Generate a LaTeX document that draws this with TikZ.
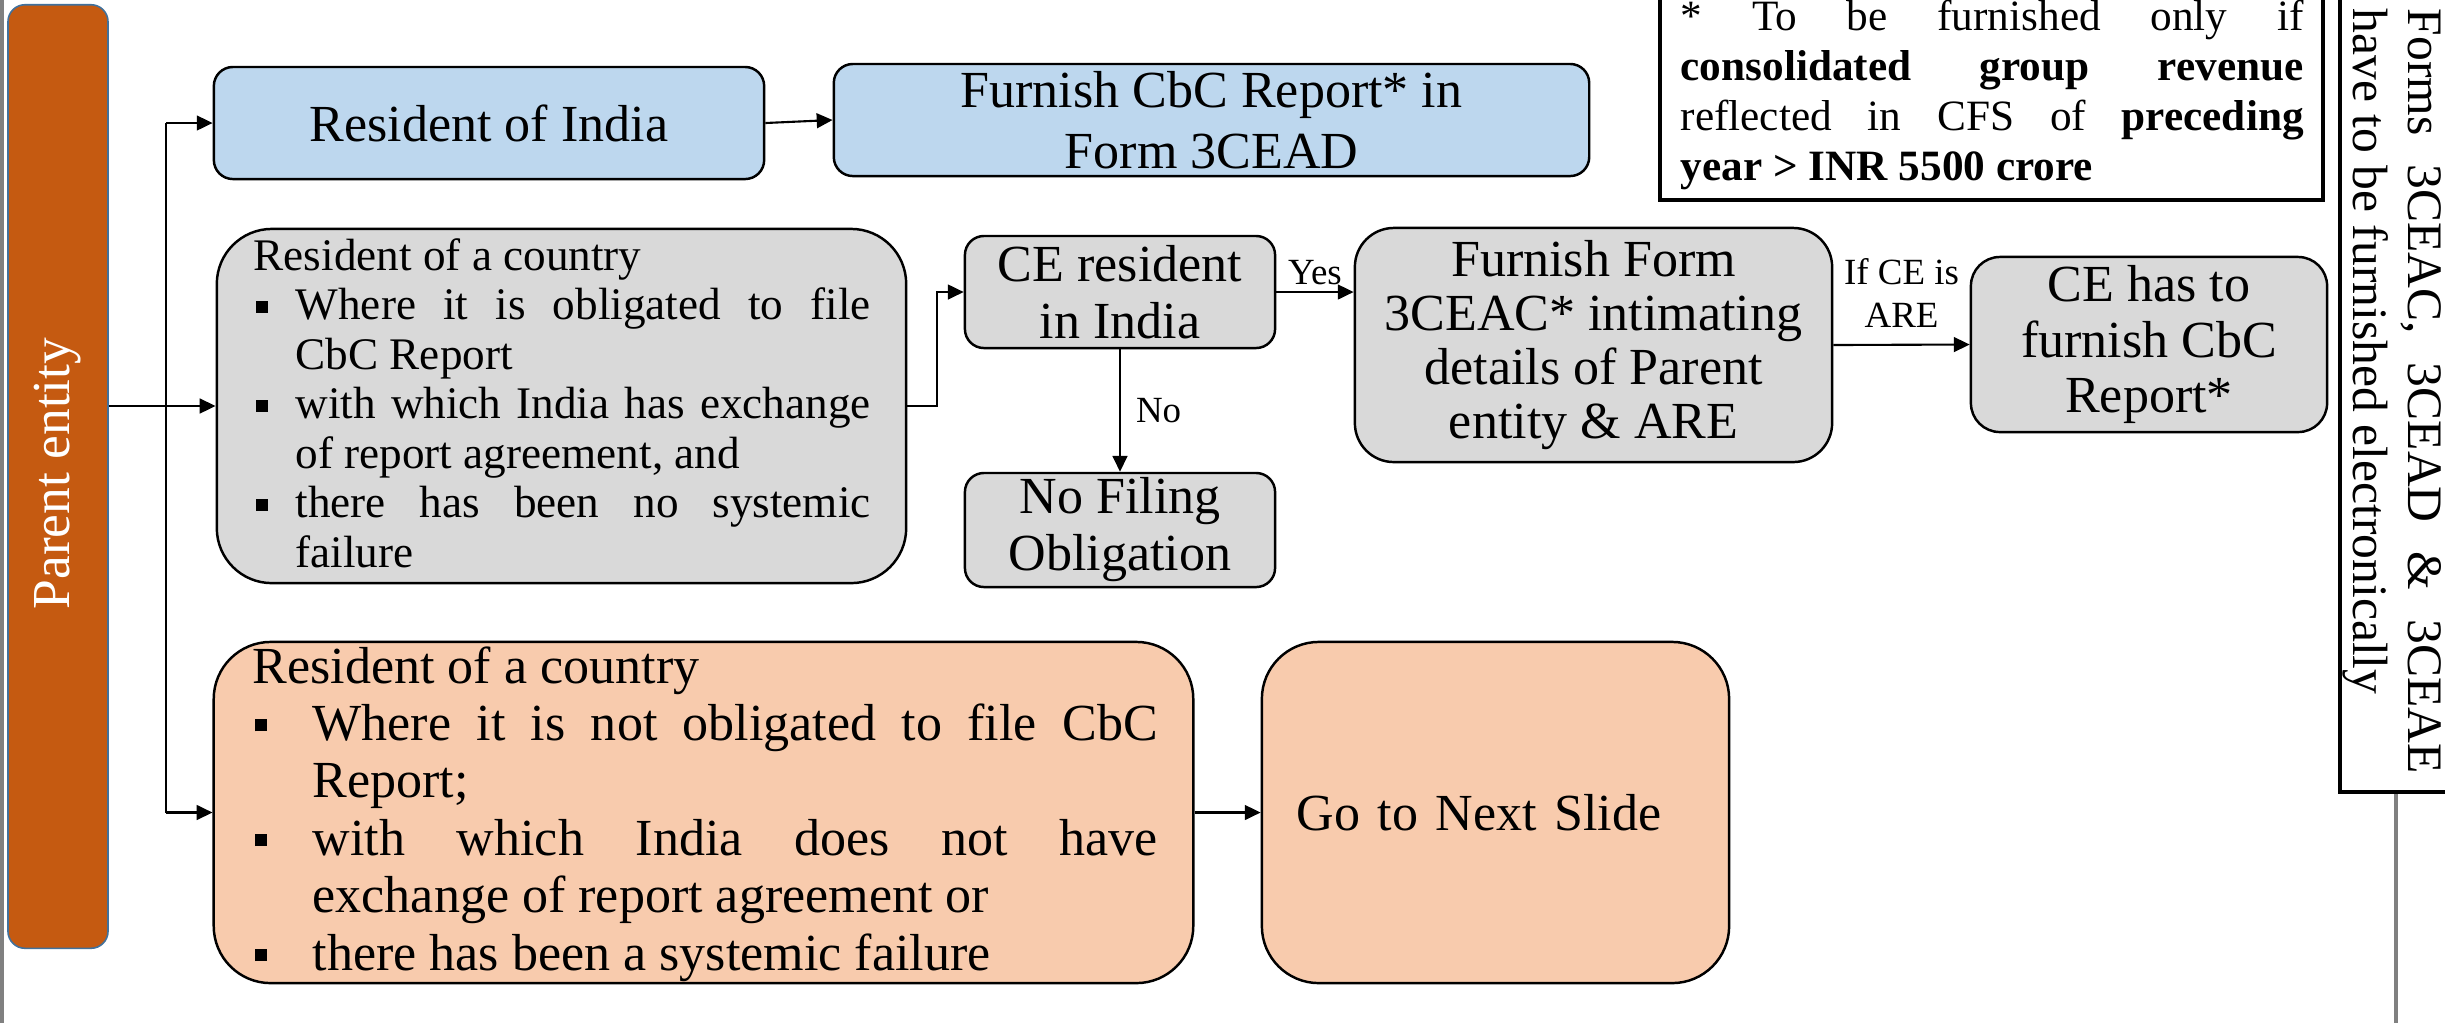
\documentclass[tikz,border=0pt]{standalone}
\usepackage{fontspec}
\setmainfont{Liberation Serif}
\usetikzlibrary{arrows.meta}

% one drawing unit
\newlength{\pxu}\setlength{\pxu}{0.01cm}

\definecolor{rust}{HTML}{C55A11}
\definecolor{rustedge}{HTML}{41719C}
\definecolor{skyfill}{HTML}{BDD7EE}
\definecolor{greyfill}{HTML}{D9D9D9}
\definecolor{peachfill}{HTML}{F8CBAD}
\definecolor{framegrey}{HTML}{808080}

\newcommand{\fsz}[2]{\fontsize{#1}{#2}\selectfont}
% square bullet in a slot of given width, raised by #2
\newcommand{\sqbul}[2]{\makebox[#1][l]{\hspace*{2\pxu}\rule[#2]{12\pxu}{12\pxu}}}
% a justified line of given width
\newcommand{\jline}[2]{\makebox[#1][s]{#2}}
% stacked lines with a fixed baseline distance; baseline = first line
\newcommand{\stacklines}[2]{\vtop{\baselineskip=#1\lineskiplimit=-\maxdimen\lineskip=0pt #2}}

\tikzset{
  flow/.style={draw=black, line width=0.7pt, inner sep=0pt, align=center},
  arr/.style={line width=0.6pt, -{Triangle[length=4.5pt,width=4.2pt]}},
  lbl/.style={inner sep=0pt, font=\fsz{10.5pt}{12.2pt}},
  big/.style={font=\fsz{14.8pt}{#1}},
}

\begin{document}
\begin{tikzpicture}[x=0.01cm, y=-0.01cm]
\useasboundingbox (0,0) rectangle (2445,1023);
\fill[white] (0,0) rectangle (2445,1023);

% slide frame
\draw[framegrey, line width=0.9pt] (2,0) -- (2,1023);

% parent entity bar
\node[flow, fill=rust, draw=rustedge, line width=0.45pt, rounded corners=0.17cm,
      minimum width=1cm, minimum height=9.43cm,
      label={[rotate=90, text=white, font=\fsz{15.2pt}{18pt}, xshift=0.03cm]center:Parent entity}]
      (pe) at (58,476.5) {};

% first branch
\node[flow, fill=skyfill, rounded corners=0.19cm, minimum width=5.5cm, minimum height=1.12cm,
      big=17.35pt] (ri) at (489,123) {Resident of India};
\node[flow, fill=skyfill, rounded corners=0.19cm, minimum width=7.55cm, minimum height=1.12cm,
      big=17.35pt] (cbc) at (1211.5,120) {Furnish CbC Report* in\\Form 3CEAD};

% second branch
\node[flow, fill=greyfill, rounded corners=0.55cm, minimum width=6.89cm, minimum height=3.54cm]
      (g1) at (561.5,406) {};
\node[anchor=base west, inner sep=0pt, font=\fsz{12.85pt}{14pt}] (g1txt) at (253,270) {\stacklines{49.5\pxu}{%
  \hbox{Resident of a country}
  \hbox{\sqbul{42\pxu}{7\pxu}\jline{575\pxu}{Where it is obligated to file}}
  \hbox{\hspace*{42\pxu}CbC Report}
  \hbox{\sqbul{42\pxu}{7\pxu}\jline{575\pxu}{with which India has exchange}}
  \hbox{\hspace*{42\pxu}of report agreement, and}
  \hbox{\sqbul{42\pxu}{7\pxu}\jline{575\pxu}{there has been no systemic}}
  \hbox{\hspace*{42\pxu}failure}}};

\node[flow, fill=greyfill, rounded corners=0.19cm, minimum width=3.1cm, minimum height=1.12cm,
      big=16.2pt] (ce) at (1120,292) {CE resident\\in India};
\node[flow, fill=greyfill, rounded corners=0.19cm, minimum width=3.1cm, minimum height=1.14cm,
      big=16.2pt] (nf) at (1120,530) {No Filing\\Obligation};
\node[flow, fill=greyfill, rounded corners=0.39cm, minimum width=4.77cm, minimum height=2.34cm,
      big=15.4pt] (ff) at (1593.5,345) {Furnish Form\\3CEAC* intimating\\details of Parent\\entity \& ARE};
\node[flow, fill=greyfill, rounded corners=0.29cm, minimum width=3.56cm, minimum height=1.75cm,
      big=15.9pt] (ceh) at (2149,344.5) {CE has to\\furnish CbC\\Report*};

% third branch
\node[flow, fill=peachfill, rounded corners=0.57cm, minimum width=9.79cm, minimum height=3.41cm]
      (pk) at (703.5,812.5) {};
\node[anchor=base west, inner sep=0pt, font=\fsz{14.8pt}{16.3pt}] (pktxt) at (252,683) {\stacklines{57.4\pxu}{%
  \hbox{Resident of a country}
  \hbox{\sqbul{60\pxu}{9\pxu}\jline{845\pxu}{Where it is not obligated to file CbC}}
  \hbox{\hspace*{60\pxu}Report;}
  \hbox{\sqbul{60\pxu}{9\pxu}\jline{845\pxu}{with which India does not have}}
  \hbox{\hspace*{60\pxu}exchange of report agreement or}
  \hbox{\sqbul{60\pxu}{9\pxu}there has been a systemic failure}}};
\node[flow, fill=peachfill, rounded corners=0.57cm, minimum width=4.67cm, minimum height=3.41cm,
      inner xsep=0.35cm, text width=3.97cm, align=left, big=17pt] (gn) at (1495.5,812.5) {Go to Next Slide};

% footnote box
\node[draw=black, line width=1pt, minimum width=6.63cm, minimum height=2.1cm, inner sep=0pt]
      (nb) at (1991.5,95) {};
\node[anchor=base west, inner sep=0pt, font=\fsz{12.3pt}{14.5pt}] (nbtxt) at (1680,30) {\stacklines{50.3\pxu}{%
  \hbox{\jline{623\pxu}{* To be furnished only if}}
  \hbox{\jline{623\pxu}{\bfseries consolidated group revenue}}
  \hbox{\jline{623\pxu}{reflected in CFS of \textbf{preceding}}}
  \hbox{\bfseries year > INR 5500 crore}}};

% side note box
\node[draw=black, line width=1.15pt, minimum width=1.3cm, minimum height=8.02cm, inner sep=0pt]
      (vb) at (2405,391) {};
\node[rotate=-90, anchor=base west, inner sep=0pt, font=\fsz{14.1pt}{15.65pt}] (vbtxt) at (2408,8) {\stacklines{55\pxu}{%
  \hbox{\jline{765\pxu}{Forms 3CEAC, 3CEAD \& 3CEAE}}
  \hbox{have to be furnished electronically}}};
\coordinate (frameR) at (2396,1023);
\draw[framegrey, line width=0.9pt] (vb.south -| frameR) -- (frameR);

% connectors
\coordinate (trunk) at (166,406);
\draw[arr] (pe.east |- g1.west) -- (g1.west);
\draw[line width=0.6pt] (trunk |- ri.west) -- (trunk |- pk.west);
\draw[arr] (trunk |- ri.west) -- (ri.west);
\draw[arr] (trunk |- pk.west) -- (pk.west);
\draw[arr] (ri.east) -- (cbc.west);
\draw[arr] (g1.east) -- ++(30,0) |- (ce.west);
\draw[arr] (ce.south) -- node[right=0.15cm, lbl] {No} (nf.north);
\draw[arr] (ce.east) -- node[above=0.06cm, lbl] {Yes} (ce.east -| ff.west);
\draw[arr] (ff.east) -- node[above=0.16cm, lbl, align=center] {If CE is\\ARE} (ceh.west);
\draw[arr] (pk.east) -- (gn.west);
\end{tikzpicture}
\end{document}
